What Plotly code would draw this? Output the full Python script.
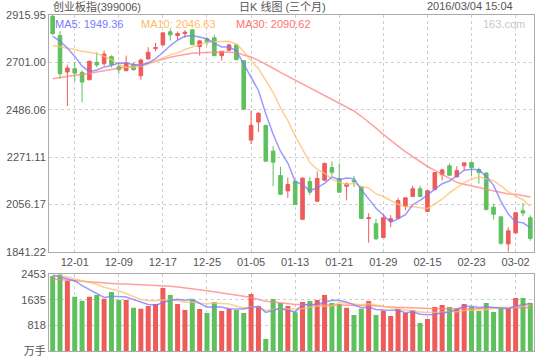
import plotly.graph_objects as go

dates = ["11-26","11-27","11-30","12-01","12-02","12-03","12-04","12-07","12-08","12-09",
         "12-10","12-11","12-14","12-15","12-16","12-17","12-18","12-21","12-22","12-23",
         "12-24","12-25","12-28","12-29","12-30","12-31","01-04","01-05","01-06","01-07",
         "01-08","01-11","01-12","01-13","01-14","01-15","01-18","01-19","01-20","01-21",
         "01-22","01-25","01-26","01-27","01-28","01-29","02-01","02-02","02-03","02-04",
         "02-05","02-15","02-16","02-17","02-18","02-19","02-22","02-23","02-24","02-25",
         "02-26","02-29","03-01","03-02","03-03","03-04"]

opens = [2910.0, 2822.7, 2656.9, 2672.1, 2655.3, 2621.9, 2701.0, 2694.9, 2726.9, 2681.2,
         2663.0, 2690.3, 2640.1, 2716.2, 2763.4, 2780.0, 2839.5, 2822.7, 2831.9, 2848.6,
         2772.5, 2807.5, 2812.1, 2731.4, 2755.8, 2780.1, 2708.6, 2348.0, 2430.4, 2415.0,
         2297.7, 2187.2, 2117.3, 2161.4, 1988.1, 2159.9, 2070.2, 2165.9, 2223.2, 2173.6,
         2138.1, 2165.9, 2135.0, 1992.0, 1968.3, 1905.9, 1980.5, 1992.7, 2047.4, 2092.1,
         2127.0, 2024.3, 2122.9, 2191.2, 2231.0, 2180.6, 2231.0, 2246.0, 2214.0, 2198.8,
         2043.6, 1999.5, 1876.6, 1926.8, 2027.3, 1995.3]
highs = [2915.95, 2842.5, 2690.3, 2701.0, 2664.5, 2710.0, 2746.6, 2754.3, 2733.0, 2701.0,
         2731.4, 2701.0, 2717.7, 2769.5, 2789.3, 2836.0, 2854.7, 2841.0, 2847.0, 2850.0,
         2803.0, 2815.0, 2826.0, 2751.5, 2784.6, 2784.6, 2709.0, 2483.5, 2474.4, 2416.0,
         2321.0, 2226.4, 2178.1, 2162.0, 2179.7, 2181.0, 2205.6, 2246.0, 2250.6, 2242.0,
         2155.0, 2185.0, 2136.0, 2016.0, 1991.0, 2009.0, 2007.5, 2085.5, 2086.5, 2141.0,
         2141.0, 2119.0, 2201.0, 2219.0, 2241.5, 2229.0, 2245.0, 2250.6, 2223.0, 2199.5,
         2058.8, 2000.0, 1951.0, 2019.0, 2063.4, 2006.0]
lows = [2825.0, 2626.4, 2503.2, 2614.3, 2519.9, 2620.0, 2678.2, 2682.8, 2678.0, 2647.7,
        2661.0, 2663.0, 2621.9, 2714.0, 2751.2, 2779.0, 2799.9, 2801.4, 2812.0, 2778.6,
        2731.4, 2778.6, 2730.0, 2708.6, 2751.2, 2712.0, 2487.0, 2330.0, 2384.5, 2251.0,
        2138.0, 2101.0, 2085.0, 2054.0, 1987.0, 2097.7, 2069.0, 2163.0, 2186.0, 2110.0,
        2074.0, 2135.0, 1989.0, 1882.0, 1895.0, 1905.0, 1953.0, 1992.0, 2029.6, 2091.0,
        2091.0, 2023.0, 2122.0, 2165.0, 2184.0, 2180.0, 2211.0, 2184.0, 2150.4, 2028.0,
        1987.0, 1872.0, 1841.22, 1922.0, 2002.0, 1891.0]
closes = [2831.9, 2649.3, 2675.1, 2652.3, 2611.2, 2705.6, 2688.8, 2739.0, 2690.3, 2667.5,
          2698.0, 2667.5, 2711.6, 2746.6, 2768.0, 2834.9, 2825.8, 2831.9, 2838.0, 2781.6,
          2798.4, 2790.8, 2731.4, 2751.2, 2780.1, 2713.2, 2488.0, 2415.0, 2469.9, 2252.1,
          2247.6, 2101.9, 2146.2, 2055.0, 2175.1, 2111.3, 2173.6, 2242.0, 2201.9, 2111.3,
          2148.7, 2158.4, 1992.0, 1995.0, 1899.8, 1995.2, 1991.1, 2073.3, 2086.0, 2127.2,
          2092.0, 2118.1, 2200.4, 2212.5, 2188.4, 2209.4, 2244.6, 2223.0, 2200.4, 2033.2,
          2011.6, 1879.7, 1936.0, 2018.5, 2016.6, 1901.6]
volumes = [2400, 2453, 2250, 1738, 1610, 1738, 1792, 1674, 1888, 1632,
           1632, 1386, 1354, 1440, 1504, 2016, 1792, 1504, 1312, 1632,
           1344, 1216, 1568, 1280, 1354, 1312, 1216, 1824, 1440, 384,
           1664, 1536, 1440, 1237, 1568, 1600, 1632, 1792, 1536, 1504,
           1386, 1152, 1354, 1600, 1152, 1290, 1120, 1344, 1216, 1312,
           896, 1024, 1408, 1472, 1408, 1344, 1504, 1408, 1280, 1536,
           1248, 1354, 1354, 1696, 1696, 1536]

# moving-average values before enough bars are visible
ma5_head = [2820, 2797, 2766, 2728]
ma10_head = [2777, 2772, 2766, 2759, 2751, 2747, 2741, 2728, 2713]
ma30_head = [2626, 2632, 2637, 2642, 2646, 2652, 2658, 2664, 2669, 2674,
             2680, 2684, 2690, 2698, 2706, 2716, 2724, 2731, 2737, 2742,
             2745, 2747, 2748, 2748, 2747, 2745, 2734, 2725, 2710]
vma5_head = [2432, 2378, 2304, 2250]
vma10_head = [2400, 2400, 2378, 2304, 2250, 2197, 2133, 2037, 1984]
vma30_head = [2304, 2293, 2272, 2250, 2229, 2208, 2186, 2165, 2154, 2144,
              2144, 2133, 2133, 2122, 2112, 2090, 2069, 2048, 2026, 1994,
              1962, 1930, 1898, 1866, 1834, 1790, 1750, 1710, 1660]

price_ticks = [1841.22, 2056.17, 2271.11, 2486.06, 2701.00, 2915.95]
vol_ticks = [0, 818, 1635, 2453]
vol_tick_text = ["万手", "818", "1635", "2453"]
date_ticks = ["12-01", "12-09", "12-17", "12-25", "01-05", "01-13",
              "01-21", "01-29", "02-15", "02-23", "03-02"]

title_left = "创业板指(399006)"
title_mid = "日K 线图 (三个月)"
title_right = "2016/03/04 15:04"
ma_labels = ["MA5: 1949.36", "MA10: 2046.63", "MA30: 2090.62"]
watermark = "163.com"


def moving_avg(vals, n, head):
    out = list(head)
    for i in range(len(head), len(vals)):
        out.append(sum(vals[i - n + 1:i + 1]) / n)
    return out


RED = "#EE5B5B"
GREEN = "#5EC15E"
C5 = "rgba(120,120,255,0.75)"
C10 = "rgba(255,190,110,0.75)"
C30 = "rgba(255,130,130,0.75)"
FONT = "Liberation Sans, Arial, Noto Sans CJK SC, sans-serif"

ma5 = moving_avg(closes, 5, ma5_head)
ma10 = moving_avg(closes, 10, ma10_head)
ma30 = moving_avg(closes, 30, ma30_head)
vma5 = moving_avg(volumes, 5, vma5_head)
vma10 = moving_avg(volumes, 10, vma10_head)
vma30 = moving_avg(volumes, 30, vma30_head)

vol_colors = [RED if c >= o else GREEN for o, c in zip(opens, closes)]

fig = go.Figure()
for vals, col in [(ma30, C30), (ma10, C10), (ma5, C5)]:
    fig.add_trace(go.Scatter(x=dates, y=vals, mode="lines",
                             line=dict(color=col, width=1.5), xaxis="x", yaxis="y",
                             hoverinfo="skip"))
fig.add_trace(go.Candlestick(
    x=dates, open=opens, high=highs, low=lows, close=closes,
    increasing=dict(line=dict(color=RED, width=1), fillcolor=RED),
    decreasing=dict(line=dict(color=GREEN, width=1), fillcolor=GREEN),
    whiskerwidth=0, xaxis="x", yaxis="y"))
fig.add_trace(go.Bar(x=dates, y=volumes, marker=dict(color=vol_colors, line=dict(width=0)),
                     width=0.68, xaxis="x2", yaxis="y2"))
for vals, col in [(vma30, C30), (vma10, C10), (vma5, C5)]:
    fig.add_trace(go.Scatter(x=dates, y=vals, mode="lines",
                             line=dict(color=col, width=1.5), xaxis="x2", yaxis="y2",
                             hoverinfo="skip"))

L, R, T, B = 49, 6, 15, 9
W, H = 540, 360
pw, ph = W - L - R, H - T - B


def px(x):
    return (x - L) / pw


def py(y):
    return (H - B - y) / ph


grid = dict(showgrid=True, gridcolor="#cfcfcf", griddash="3px,3px", gridwidth=1,
            showline=True, mirror=True, linecolor="#aaaaaa", linewidth=1,
            zeroline=False, ticks="", automargin=False,
            tickfont=dict(family=FONT, size=11, color="#555"))

fig.update_layout(
    width=W, height=H, margin=dict(l=L, r=R, t=T, b=B, autoexpand=False),
    paper_bgcolor="white", plot_bgcolor="white", showlegend=False,
    font=dict(family=FONT, size=11, color="#555"),
    xaxis=dict(domain=[0, 1], anchor="y", type="category", range=[-0.5, 65.5],
               tickvals=date_ticks, ticktext=date_ticks, rangeslider=dict(visible=False),
               **grid),
    yaxis=dict(domain=[py(251.7), 1], anchor="x", range=[price_ticks[0], price_ticks[-1]],
               tickvals=price_ticks, ticktext=["%.2f" % v for v in price_ticks], **grid),
    xaxis2=dict(domain=[0, 1], anchor="y2", type="category", range=[-0.5, 65.5],
                matches="x", tickvals=date_ticks, showticklabels=False, **grid),
    yaxis2=dict(domain=[0, py(274.3)], anchor="x2", range=[vol_ticks[0], vol_ticks[-1]],
                tickvals=vol_ticks, ticktext=vol_tick_text, **grid),
)

ann = [
    (title_left, 51, 6, "left", "#555"),
    (title_mid, 282, 6, "center", "#555"),
    (title_right, 515, 6, "right", "#555"),
    (ma_labels[0], 53, 23.5, "left", "#7b7bff"),
    (ma_labels[1], 139, 23.5, "left", "#ffbb66"),
    (ma_labels[2], 234, 23.5, "left", "#ff7272"),
    (watermark, 527, 23.5, "right", "#c8c8c8"),
]
for text, x, y, anchor, col in ann:
    fig.add_annotation(text=text, x=px(x), y=py(y), xref="paper", yref="paper",
                       xanchor=anchor, yanchor="middle", showarrow=False,
                       font=dict(family=FONT, size=11, color=col))

fig.write_html("out.html", config={"displayModeBar": False},
               post_script="document.body.style.margin='0px';document.body.style.overflow='hidden';")
